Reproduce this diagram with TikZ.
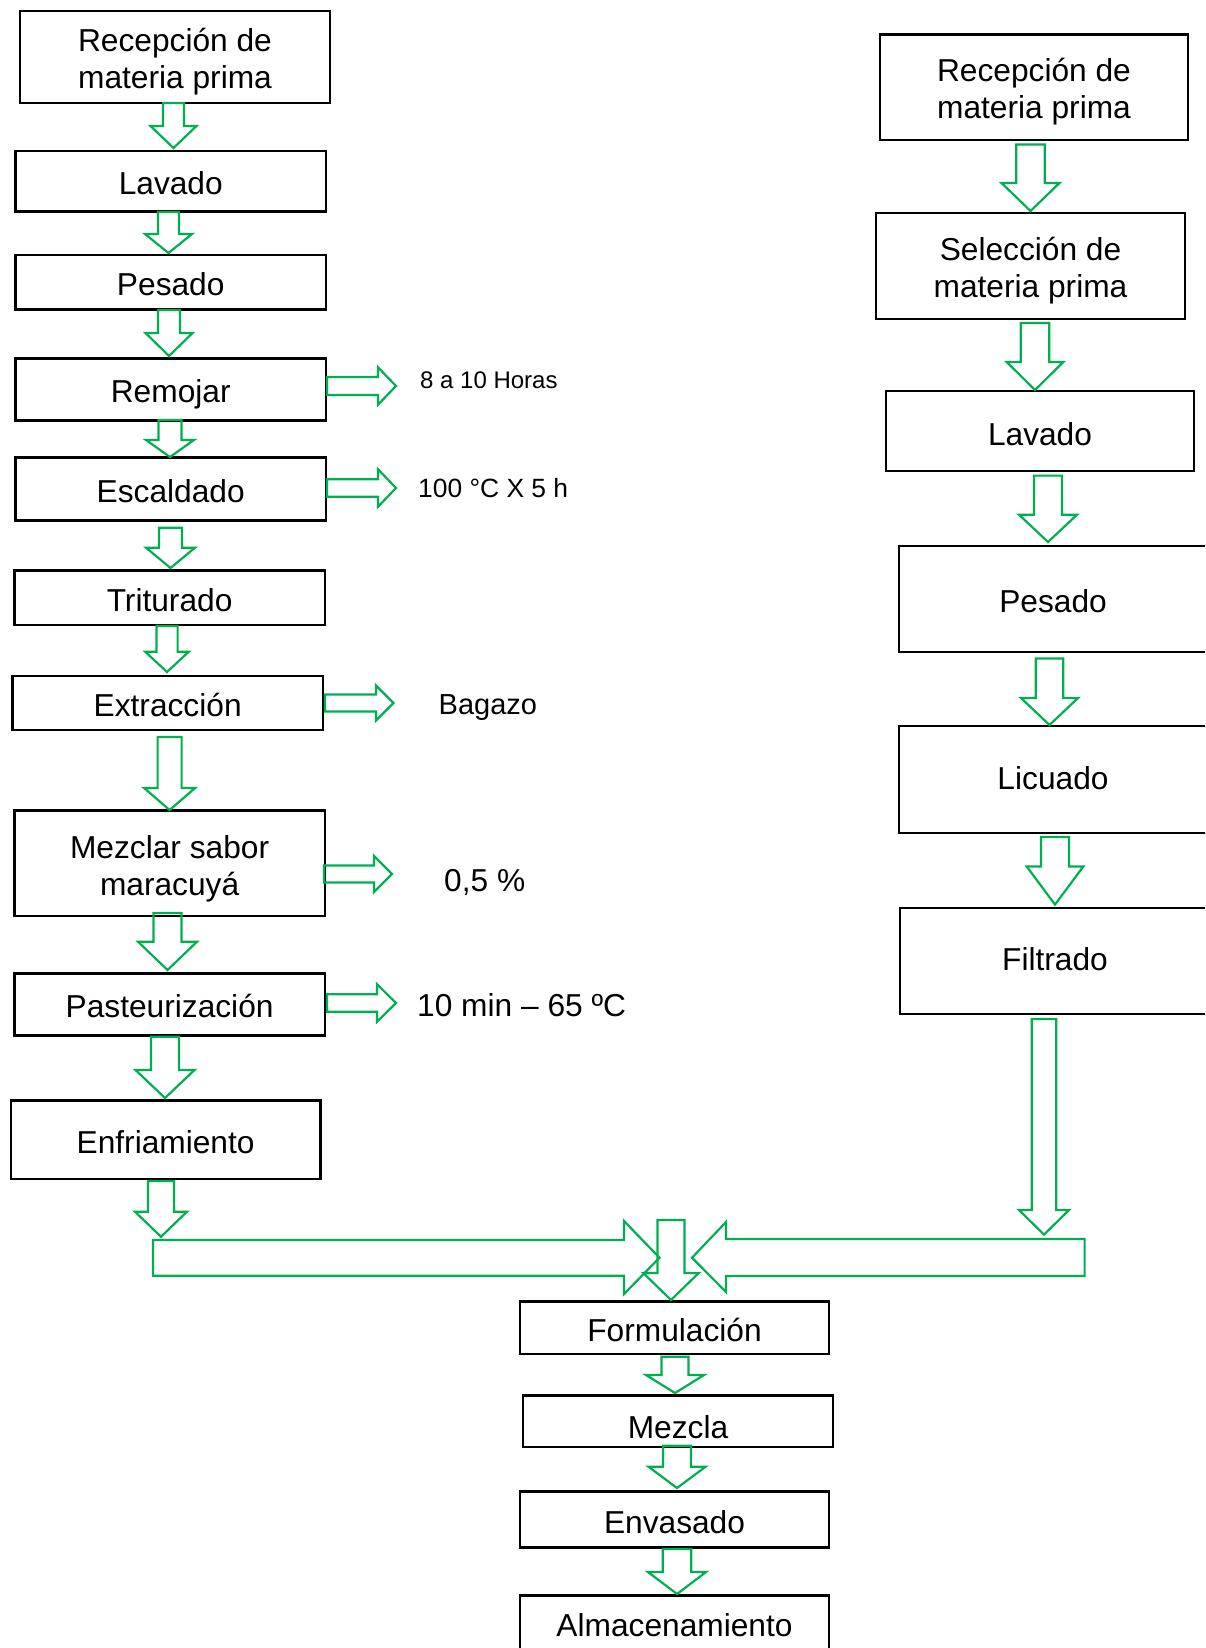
\documentclass[tikz,border=0pt]{standalone}
\usepackage{fontspec}
\setmainfont{Liberation Sans}
\definecolor{ogreen}{RGB}{0,176,80}
\tikzset{
 pbox/.style={draw=black, line width=2.6pt, inner sep=0pt, outer sep=0pt,
   font=\fontsize{31.7}{36.8}\selectfont, align=center, text height=26.7pt, text depth=0pt},
 pboxtwo/.style={pbox, text height=63.5pt},
 garrow/.style={draw=ogreen, line width=2.2pt, line join=miter},
 note/.style={anchor=base west, inner sep=0pt},
}
% cx top head tip shaft-half head-half
\newcommand{\vblock}[6]{%
 \draw[garrow] ({#1-#5},#2) -- ({#1+#5},#2) -- ({#1+#5},#3) -- ({#1+#6},#3) -- (#1,#4) -- ({#1-#6},#3) -- ({#1-#5},#3) -- cycle;}
% x0 xhead xtip cy shaft-half head-half
\newcommand{\hblock}[6]{%
 \draw[garrow] (#1,{#4-#5}) -- (#2,{#4-#5}) -- (#2,{#4-#6}) -- (#3,#4) -- (#2,{#4+#6}) -- (#2,{#4+#5}) -- (#1,{#4+#5}) -- cycle;}
\begin{document}
\begin{tikzpicture}[x=1pt,y=-1pt]
\useasboundingbox (0,0) rectangle (1205,1648);
\clip (0,0) rectangle (1205,1648);
% left column
\node[pboxtwo, minimum width=310, minimum height=92] (L1) at (175,57) {Recepción de\\materia prima};
\node[pbox, minimum width=310.5, minimum height=60.5] (L2) at (170.75,181.25) {Lavado};
\node[pbox, minimum width=310.5, minimum height=54.3] (L3) at (170.75,282.15) {Pesado};
\node[pbox, minimum width=310.5, minimum height=62.4] (L4) at (170.75,389.5) {Remojar};
\node[pbox, minimum width=310.5, minimum height=63.4] (L5) at (170.75,489) {Escaldado};
\node[pbox, minimum width=310.8, minimum height=54.3] (L6) at (169.6,597.85) {Triturado};
\node[pbox, minimum width=310.7, minimum height=54] (L7) at (167.65,703) {Extracción};
\node[pboxtwo, minimum width=310.8, minimum height=105.3] (L8) at (169.6,863.35) {Mezclar sabor\\maracuyá};
\node[pbox, minimum width=310.8, minimum height=62.4] (L9) at (169.6,1004.5) {Pasteurización};
\node[pbox, minimum width=309.6, minimum height=78.3] (L10) at (165.6,1139.85) {Enfriamiento};
% right column
\node[pboxtwo, minimum width=308, minimum height=105.3, text height=61.5pt] (R1) at (1034,87.35) {Recepción de\\materia prima};
\node[pboxtwo, minimum width=309, minimum height=106] (R2) at (1030.5,266) {Selección de\\materia prima};
\node[pbox, minimum width=308, minimum height=80, text height=28.7pt] (R3) at (1040,431) {Lavado};
\node[pbox, minimum width=308, minimum height=106] (R4) at (1053,599) {Pesado};
\node[pbox, minimum width=308, minimum height=107, text height=20.7pt] (R5) at (1053,779.5) {Licuado};
\node[pbox, minimum width=310, minimum height=106, text height=18.7pt] (R6) at (1055,961) {Filtrado};
% bottom
\node[pbox, minimum width=309, minimum height=52.3] (B1) at (674.5,1327.85) {Formulación};
\node[pbox, minimum width=310, minimum height=51.3, text height=34.7pt] (B2) at (678,1421.35) {Mezcla};
\node[pbox, minimum width=309, minimum height=56] (B3) at (674.5,1519.7) {Envasado};
\node[pbox, minimum width=309, minimum height=55.3] (B4) at (674.5,1623.35) {Almacenamiento};
% side labels
\node[note, font=\fontsize{24}{28}\selectfont] (t1) at (420,388.6) {8 a 10 Horas};
\node[note, font=\fontsize{26.4}{30}\selectfont] (t2) at (418,497.5) {100 °C X 5 h};
\node[note, font=\fontsize{29}{33}\selectfont] (t3) at (438.5,714.4) {Bagazo};
\node[note, font=\fontsize{31.7}{36}\selectfont] (t4) at (444,891.3) {0,5 \%};
\node[note, font=\fontsize{31.7}{36}\selectfont] (t5) at (417,1016.3) {10 min – 65 ºC};
% left down arrows
\vblock{173.5}{103}{126}{148}{10.5}{23}
\vblock{168.5}{212}{234}{253}{10.5}{23.5}
\vblock{169}{310}{333}{356}{11}{23.5}
\vblock{170}{420}{440}{457}{11.5}{24}
\vblock{170.5}{527.7}{547.7}{568}{11.5}{24.5}
\vblock{167}{626}{651.7}{672}{10.6}{21.8}
\vblock{169.6}{737}{788}{810}{12}{25.5}
\vblock{167.5}{913}{941.7}{970}{14}{29.5}
\vblock{165}{1036.7}{1070}{1098}{14}{29.5}
\vblock{161}{1181}{1211.7}{1236.7}{13}{26}
% right down arrows
\vblock{1030.5}{144.5}{183}{211}{14.3}{29}
\vblock{1035}{323}{362}{390}{14.2}{28.3}
\vblock{1048}{475.6}{514.7}{542}{14}{29}
\vblock{1049.5}{658.5}{698}{725}{13.7}{28.5}
\vblock{1055}{837}{866.5}{904.6}{14}{28.3}
\vblock{1044}{1019}{1210}{1234.6}{12.2}{25}
% bottom down arrows
\vblock{675}{1356.7}{1375}{1393}{13.5}{29}
\vblock{677}{1445.7}{1466.7}{1488}{14}{28.5}
\vblock{677}{1549}{1572}{1594}{14.3}{29}
% side arrows
\hblock{327}{378}{396}{386}{9}{18.7}
\hblock{327}{378}{396}{488}{8.8}{18.8}
\hblock{325}{376}{393.5}{703}{8.5}{17.5}
\hblock{324}{374}{392}{874}{8.5}{18}
\hblock{327}{377}{396}{1003}{8.8}{18.8}
% merge
\draw[garrow] (153,1240) -- (624,1240) -- (624,1221) -- (659.5,1257.7) -- (624,1294) -- (624,1275.7) -- (153,1275.7) -- cycle;
\draw[garrow] (1084.6,1239) -- (726,1239) -- (726,1222) -- (692,1257.7) -- (726,1292) -- (726,1276) -- (1084.6,1276) -- cycle;
\vblock{671}{1220}{1273}{1300}{13.5}{27.7}
\end{tikzpicture}
\end{document}
